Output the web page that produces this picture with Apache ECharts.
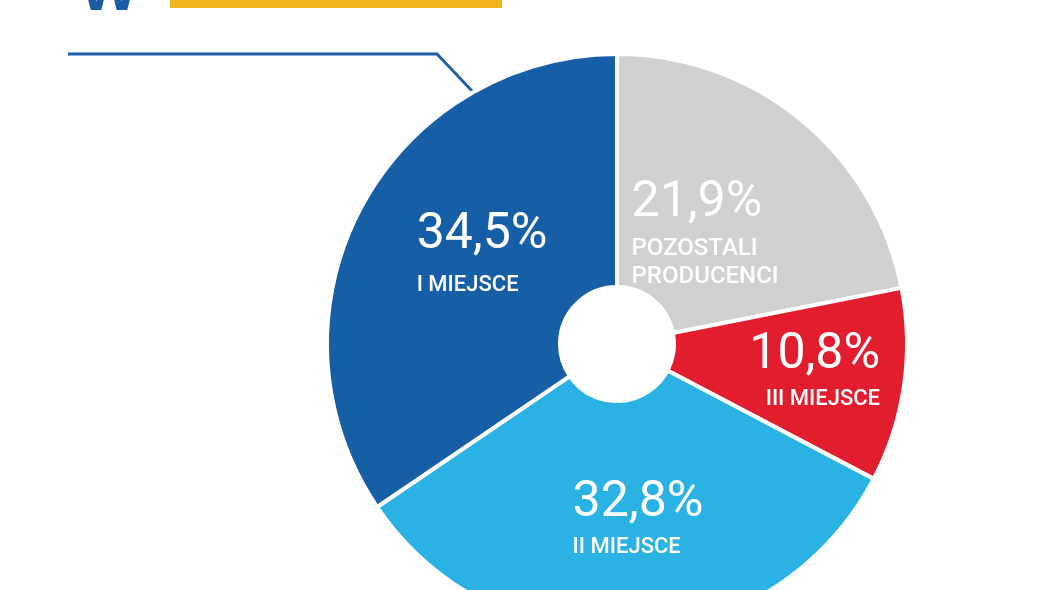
<!DOCTYPE html>
<html>
<head>
<meta charset="utf-8">
<script src="https://cdn.jsdelivr.net/npm/echarts@6/dist/echarts.min.js"></script>
<style>
html,body{margin:0;padding:0;background:#fff;}
#c{width:1050px;height:590px;}
</style>
</head>
<body>
<div id="c"></div>
<script>
const categories = ['POZOSTALI\nPRODUCENCI', 'III MIEJSCE', 'II MIEJSCE', 'I MIEJSCE'];
const values = [21.9, 10.8, 32.8, 34.5];
const valueLabels = ['21,9%', '10,8%', '32,8%', '34,5%'];
const colors = ['#D0D0D0', '#E11D2E', '#29B2E3', '#165EA6'];

const FONT = 'Roboto, "Noto Sans", sans-serif';

// label styling per slice (layout only)
const labelStyle = [
  {align: 'left',  offset: [-24, 24], valueLH: 62, nameSize: 24, nameLH: 28},
  {align: 'right', offset: [23, 0],   valueLH: 60, nameSize: 22, nameLH: 27},
  {align: 'left',  offset: [11, -3],  valueLH: 60, nameSize: 22, nameLH: 27},
  {align: 'left',  offset: [21, -12], valueLH: 72, nameSize: 22, nameLH: 27}
];

const rich = {};
labelStyle.forEach((s, i) => {
  rich['v' + i] = {fontFamily: FONT, fontSize: 50, color: '#ffffff', lineHeight: s.valueLH, align: s.align};
  rich['n' + i] = {fontFamily: FONT, fontSize: s.nameSize, fontWeight: 500, color: '#ffffff', lineHeight: s.nameLH, align: s.align};
});

const chart = echarts.init(document.getElementById('c'), null, {renderer: 'canvas'});

const data = values.map((v, i) => ({
  value: v,
  name: categories[i],
  itemStyle: {color: colors[i]},
  label: {offset: labelStyle[i].offset}
}));

chart.setOption({
  animation: false,
  backgroundColor: '#ffffff',
  graphic: [
    {type: 'rect', shape: {x: 170, y: 0, width: 332, height: 8}, style: {fill: '#F2B51E'}, silent: true},
    {type: 'text', x: 109, y: 24, style: {text: 'W', font: 'bold 62px "Liberation Sans", Arial, sans-serif', fill: '#1A5DA6', align: 'center', verticalAlign: 'bottom'}, silent: true},
    {type: 'polyline', shape: {points: [[68, 54], [437, 54], [473, 92]]}, style: {stroke: '#1D5FA8', lineWidth: 3, fill: null}, silent: true}
  ],
  series: [{
    type: 'pie',
    center: [617, 344],
    radius: [57, 290],
    startAngle: 90,
    clockwise: true,
    avoidLabelOverlap: false,
    silent: true,
    emphasis: {disabled: true},
    itemStyle: {borderColor: '#ffffff', borderWidth: 4},
    labelLine: {show: false},
    label: {
      show: true,
      position: 'inside',
      formatter: function (p) {
        const i = p.dataIndex;
        const lines = categories[i].split('\n').map(s => '{n' + i + '|' + s + '}');
        return '{v' + i + '|' + valueLabels[i] + '}\n' + lines.join('\n');
      },
      rich: rich
    },
    data: data
  }]
});
</script>
</body>
</html>
